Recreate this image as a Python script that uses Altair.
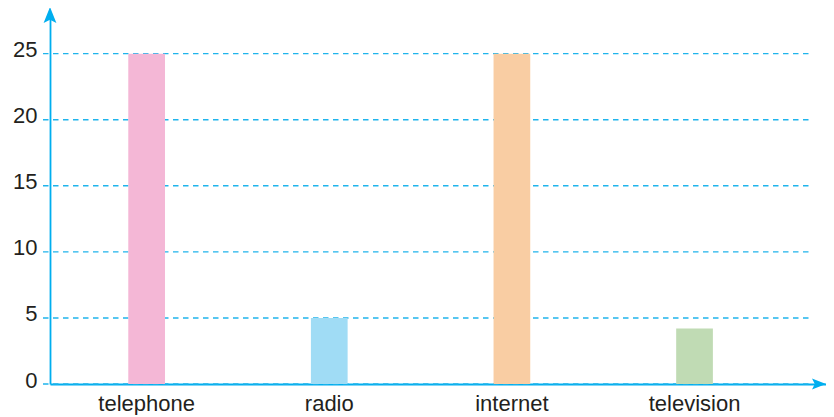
import altair as alt
import pandas as pd

# ---- data ----
categories = ["telephone", "radio", "internet", "television"]
values = [25, 5, 25, 4.2]
bar_colors = ["#f4b7d6", "#a0dcf5", "#f9cda3", "#c0dbb4"]
y_ticks = [0, 5, 10, 15, 20, 25]

AXIS = "#00aeef"
GRID = "#1fb4ec"
TEXT = "#231f20"
FONT = "Liberation Sans"

W, H = 776, 370

bars_df = pd.DataFrame({"category": categories, "value": values})
grid_df = pd.DataFrame({"tick": y_ticks})
one_df = pd.DataFrame({"a": [0]})

y_scale = alt.Scale(domain=[0, 28], nice=False, zero=True)
x_scale = alt.Scale(domain=categories, paddingInner=0.799, paddingOuter=0.524, align=0.409)

y_axis = alt.Axis(
    title=None,
    values=y_ticks,
    ticks=False,
    grid=False,
    domain=True,
    domainColor=AXIS,
    domainWidth=1.8,
    labelFont=FONT,
    labelFontSize=22,
    labelColor=TEXT,
    labelPadding=13,
    labelBaseline="middle",
    labelOffset=-4,
)

grid = alt.Chart(grid_df).mark_rule(
    color=GRID, strokeWidth=1.4, strokeDash=[5.5, 4.5]
).encode(
    y=alt.Y("tick:Q", scale=y_scale, axis=y_axis),
    x=alt.value(-7),
    x2=alt.value(762),
)

bars = alt.Chart(bars_df).mark_bar(opacity=1).encode(
    x=alt.X(
        "category:N",
        sort=categories,
        scale=x_scale,
        axis=alt.Axis(
            title=None,
            labelAngle=0,
            ticks=False,
            domain=True,
            domainColor=AXIS,
            domainWidth=1.8,
            labelFont=FONT,
            labelFontSize=22,
            labelColor=TEXT,
            labelPadding=26,
            labelBaseline="alphabetic",
        ),
    ),
    y=alt.Y("value:Q", scale=y_scale, axis=y_axis),
    color=alt.Color(
        "category:N",
        scale=alt.Scale(domain=categories, range=bar_colors),
        legend=None,
    ),
)

up_arrow = alt.Chart(one_df).mark_point(
    shape="M0,-1L0.8,1L0,0.6L-0.8,1Z", filled=True, size=256, color=AXIS, opacity=1
).encode(x=alt.value(0), y=alt.value(1))

right_arrow = alt.Chart(one_df).mark_point(
    shape="M1,0L-1,-0.8L-0.6,0L-1,0.8Z", filled=True, size=196, color=AXIS, opacity=1
).encode(x=alt.value(W - 7), y=alt.value(H))

chart = alt.layer(grid, bars, up_arrow, right_arrow).properties(
    width=W,
    height=H,
    background="white",
    autosize=alt.AutoSizeParams(type="none"),
    padding={"left": 42, "top": 6, "right": 0, "bottom": 31},
).configure_view(stroke=None)

chart.save("out.html", embed_options={"renderer": "svg", "actions": False})
